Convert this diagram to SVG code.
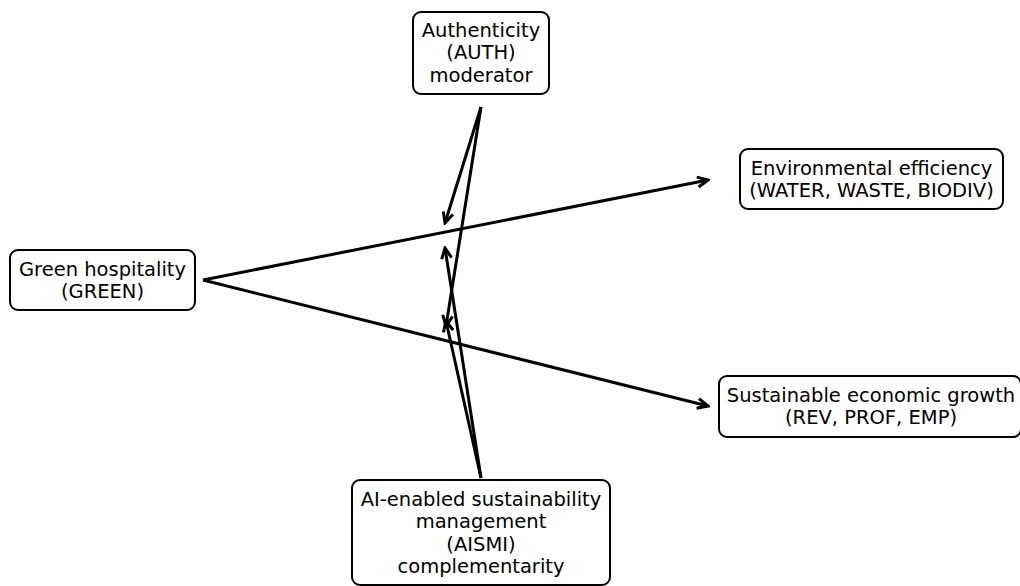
<svg xmlns="http://www.w3.org/2000/svg" width="1020" height="586" viewBox="0 0 1020 586">
<defs>
<marker id="arr" markerUnits="userSpaceOnUse" viewBox="-14 -7 16 14" markerWidth="16" markerHeight="14" refX="0" refY="0" orient="auto">
<path d="M -10.5 -5 L 0 0 L -10.5 5" fill="none" stroke="#000" stroke-width="3" stroke-linejoin="miter" stroke-miterlimit="10"/>
</marker>
<style>
.box{fill:#fff;stroke:#000;stroke-width:2}
.t{font-family:"DejaVu Sans",sans-serif;font-size:19.5px;fill:#000;text-anchor:middle}
.c{fill:none;stroke:#000;stroke-width:3;marker-end:url(#arr)}
</style>
</defs>
<rect width="1020" height="586" fill="#fff"/>
<g id="connectors">
<line class="c" x1="203" y1="280" x2="708" y2="180"/>
<line class="c" x1="203" y1="280" x2="708" y2="406"/>
<line class="c" x1="481" y1="107" x2="445" y2="223"/>
<line class="c" x1="481" y1="107" x2="446" y2="326"/>
<line class="c" x1="481" y1="478" x2="445" y2="248"/>
<line class="c" x1="481" y1="478" x2="446" y2="321"/>
</g>
<g id="auth">
<rect class="box" x="413" y="12" width="136" height="82" rx="8"/>
<text class="t" x="481" y="36.5">Authenticity</text>
<text class="t" x="481" y="59">(AUTH)</text>
<text class="t" x="481" y="81.5">moderator</text>
</g>
<g id="green">
<rect class="box" x="10" y="250" width="185" height="60" rx="8"/>
<text class="t" x="102.5" y="275.5">Green hospitality</text>
<text class="t" x="102.5" y="298">(GREEN)</text>
</g>
<g id="env">
<rect class="box" x="740" y="149" width="263" height="60" rx="8"/>
<text class="t" x="871.5" y="174.5">Environmental efficiency</text>
<text class="t" x="871.5" y="197">(WATER, WASTE, BIODIV)</text>
</g>
<g id="seg">
<rect class="box" x="719" y="376" width="302" height="61" rx="8"/>
<text class="t" x="871" y="401.5">Sustainable economic growth</text>
<text class="t" x="871" y="424">(REV, PROF, EMP)</text>
</g>
<g id="aismi">
<rect class="box" x="352" y="480" width="258" height="105" rx="8"/>
<text class="t" x="481" y="505.5">AI-enabled sustainability</text>
<text class="t" x="481" y="528">management</text>
<text class="t" x="481" y="550.5">(AISMI)</text>
<text class="t" x="481" y="573">complementarity</text>
</g>
</svg>
